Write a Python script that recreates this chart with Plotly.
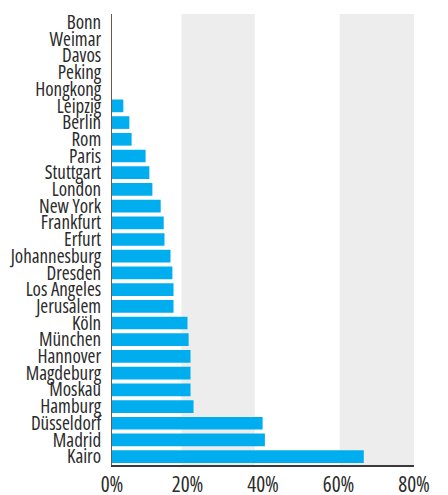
import plotly.graph_objects as go

cities = ["Bonn", "Weimar", "Davos", "Peking", "Hongkong", "Leipzig", "Berlin", "Rom",
          "Paris", "Stuttgart", "London", "New York", "Frankfurt", "Erfurt",
          "Johannesburg", "Dresden", "Los Angeles", "Jerusalem", "Köln", "München",
          "Hannover", "Magdeburg", "Moskau", "Hamburg", "Düsseldorf", "Madrid", "Kairo"]
values = [0, 0, 0, 0, 0, 3.0, 4.6, 5.2, 8.9, 9.9, 10.7, 12.9, 13.7, 13.9,
          15.5, 16.0, 16.3, 16.3, 20.0, 20.3, 20.8, 20.8, 20.8, 21.6, 39.9, 40.5, 66.7]
tick_vals = [0, 20, 40, 60, 80]
tick_text = ["0%", "20%", "40%", "60%", "80%"]
bands = [(18.4, 37.8), (60.3, 80.0)]

FONT = "Open Sans, Roboto Condensed, sans-serif"

fig = go.Figure()
fig.add_trace(go.Bar(
    x=values, y=cities, orientation="h",
    marker=dict(color="#00AEEF", line=dict(width=0)),
    hoverinfo="x+y",
))

for x0, x1 in bands:
    fig.add_shape(type="rect", xref="x", yref="paper", x0=x0, x1=x1, y0=0, y1=1,
                  fillcolor="#EDEDED", line=dict(width=0), layer="below")

n = len(cities)
fig.update_layout(
    width=448, height=495,
    margin=dict(l=112, r=34, t=14, b=30),
    paper_bgcolor="white", plot_bgcolor="white",
    bargap=0.24,
    showlegend=False,
    font=dict(family=FONT, size=19, color="#2b2b2b"),
    xaxis=dict(
        range=[0, 80], tickvals=tick_vals, ticktext=tick_text,
        showgrid=False, zeroline=False, automargin=False,
        showline=True, linecolor="#3a3a3a", linewidth=1.5,
        ticks="", tickfont=dict(family=FONT, size=21, color="#2b2b2b"),
        ticklabelstandoff=0,
    ),
    yaxis=dict(
        type="category", categoryarray=cities, categoryorder="array",
        range=[n - 0.5, -0.5], dtick=1, automargin=False,
        showgrid=False, zeroline=False,
        showline=True, linecolor="#6b5847", linewidth=1,
        ticks="", ticklabelstandoff=6,
        tickfont=dict(family=FONT, size=19, color="#2b2b2b"),
    ),
)

post = """
var s = document.createElement('style');
s.textContent = 'html, body { margin: 0; padding: 0; overflow: hidden; } .xtick text, .ytick text { font-stretch: 75%; }';
document.head.appendChild(s);
"""
fig.write_html("out.html", post_script=post, config={"displayModeBar": False})
